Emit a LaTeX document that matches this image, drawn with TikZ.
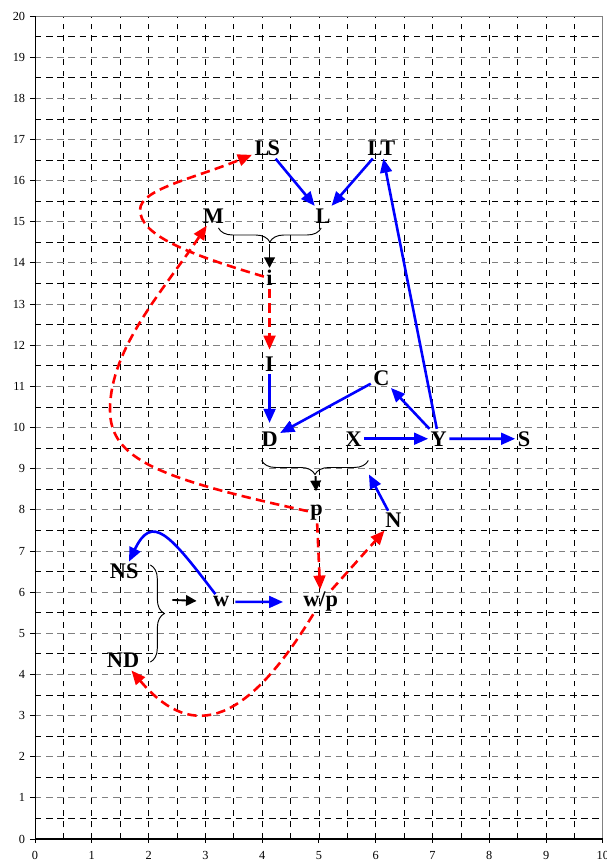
\documentclass[tikz,border=0pt]{standalone}
\usepackage{fontspec}
\setmainfont{Liberation Serif}
\usepackage{tikz}
\usetikzlibrary{arrows.meta,decorations.pathreplacing}

\begin{document}
\begin{tikzpicture}[
  x=1.701cm, y=1.2326cm,
  lbl/.style={font=\fontsize{19}{22}\selectfont\bfseries, inner sep=2pt, anchor=base},
  ticklbl/.style={font=\fontsize{10.5}{11}\selectfont, inner sep=0pt},
  vgrid/.style={black, line width=0.6pt, dash pattern=on 5pt off 5pt},
  hmajor/.style={gray, line width=0.8pt, dash pattern=on 5.5pt off 4pt},
  hminor/.style={black, line width=0.6pt, dash pattern=on 5.5pt off 4pt},
  bluarrow/.style={-{Triangle[length=12pt,width=10pt]}, blue, line width=2.2pt},
  redarrow/.style={-{Triangle[length=12pt,width=10pt]}, red, line width=2.2pt, dash pattern=on 8pt off 4.5pt},
  blkarrow/.style={-{Triangle[length=9pt,width=9pt]}, black, line width=1.6pt},
  brc/.style={decorate, decoration={brace, amplitude=12pt}, line width=0.8pt}
]
\useasboundingbox (-0.617,-0.583) rectangle (10.07,20.39);

\foreach \gx in {0.5,1,...,9.5} \draw[vgrid] (\gx,0) -- (\gx,20);
\foreach \gy in {1,...,19} \draw[hmajor] (0,\gy) -- (10,\gy);
\foreach \gy in {0.5,1.5,...,19.5} \draw[hminor] (0,\gy) -- (10,\gy);
\draw[gray, line width=0.9pt] (0,20) -- (10,20) -- (10,0);
\draw[black, line width=0.9pt] (0,20) -- (0,0) -- (10,0);
\foreach \t in {0,...,20} {
  \draw[line width=0.8pt] (-0.09,\t) -- (0,\t);
  \node[ticklbl, anchor=east] (yl\t) at (-0.17,\t) {\t};
}
\foreach \t in {0,...,10} {
  \draw[line width=0.8pt] (\t,0) -- (\t,-0.1);
  \node[ticklbl] (xl\t) at (\t,-0.40) {\t};
}

\node[lbl] (LS) at (4.09,16.60) {L\kern-1.5pt S};
\node[lbl] (LT) at (6.10,16.60) {LT};
\node[lbl] (M) at (3.14,14.97) {M};
\node[lbl] (L) at (5.07,14.97) {L};
\node[lbl] (i) at (4.13,13.44) {i};
\node[lbl] (I) at (4.13,11.36) {I};
\node[lbl] (C) at (6.10,11.03) {C};
\node[lbl] (D) at (4.13,9.55) {D};
\node[lbl] (X) at (5.61,9.55) {X};
\node[lbl] (Y) at (7.11,9.55) {Y};
\node[lbl] (S) at (8.61,9.55) {S};
\node[lbl] (p) at (4.96,7.85) {p};
\node[lbl] (N) at (6.31,7.56) {N};
\node[lbl] (NS) at (1.57,6.32) {NS};
\node[lbl] (w) at (3.28,5.64) {w};
\node[lbl] (wp) at (5.03,5.64) {w/p};
\node[lbl] (ND) at (1.55,4.16) {ND};

\draw[brc] (5.04,14.85) -- (3.23,14.85);
\coordinate (mlTip) at (4.13,14.45);
\draw[brc] (5.87,9.20) -- (3.99,9.20);
\coordinate (dxTip) at (4.94,8.82);
\coordinate (dxEnd) at (5.88,8.86);
\draw[brc] (2.03,6.66) -- (2.03,4.30);
\coordinate (nsTip) at (2.42,5.81);

\draw[bluarrow] (LS) -- (L);
\draw[bluarrow] (LT) -- (L);
\draw[blkarrow] (mlTip) -- (i);
\draw[redarrow, shorten >=4pt] (i) -- (I);
\draw[bluarrow, shorten >=5pt] (I) -- (D);
\draw[bluarrow] (C) -- (D);
\draw[bluarrow] (Y) -- (C);
\draw[bluarrow] (Y) -- (LT);
\draw[bluarrow] (X) -- (Y);
\draw[bluarrow] (Y) -- (S);
\draw[blkarrow, shorten >=10pt] (dxTip) -- (p);
\draw[bluarrow] (N) -- (dxEnd);
\draw[redarrow] (p) -- (wp);
\draw[redarrow] (wp) -- (N);
\draw[redarrow] (wp) .. controls (3.62,2.55) and (2.68,2.50) .. (ND);
\draw[redarrow] (p) .. controls (2.17,8.76) and (1.32,9.23) .. (1.32,10.43)
  .. controls (1.32,11.93) and (2.27,13.35) .. (M);
\draw[redarrow] (i) .. controls (2.63,14.24) and (1.85,14.69) .. (1.85,15.29)
  .. controls (1.85,15.79) and (2.77,16.04) .. (LS);
\draw[bluarrow] (w) .. controls (2.36,7.43) and (2.06,7.91) .. (NS);
\draw[blkarrow, shorten >=12pt] (nsTip) -- (w);
\draw[bluarrow, shorten <=3pt, shorten >=15pt] (w) -- (wp);
\end{tikzpicture}
\end{document}
